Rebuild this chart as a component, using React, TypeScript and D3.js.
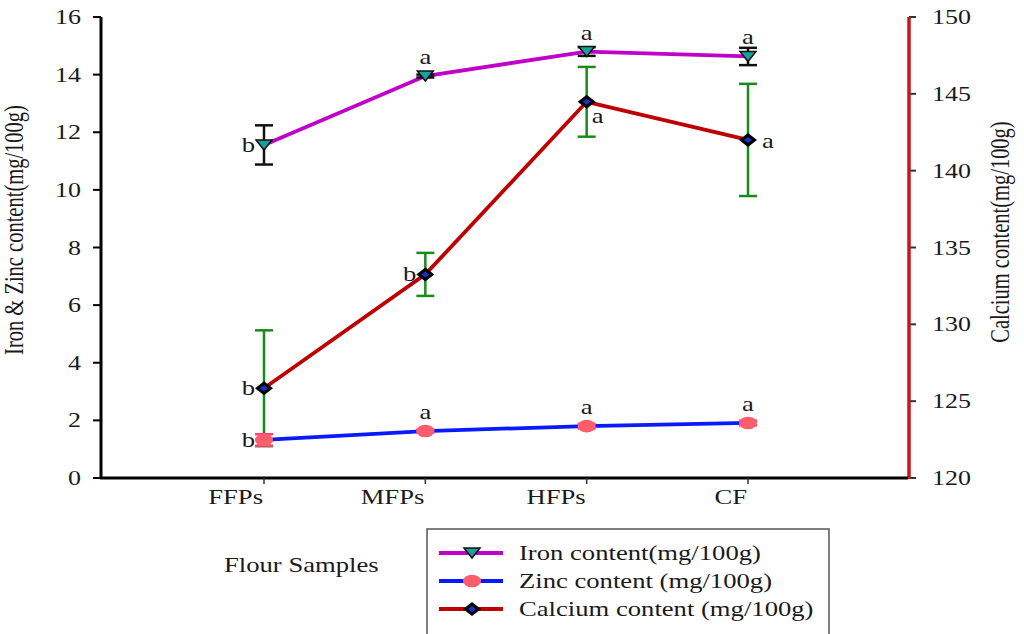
import React from 'react';
import * as d3 from 'd3';

const categories = ['FFPs', 'MFPs', 'HFPs', 'CF'];

const ironValues = [11.56, 13.95, 14.8, 14.63];
const ironErrors = [0.68, 0.05, 0.15, 0.3];
const ironLetters = ['b', 'a', 'a', 'a'];

const zincValues = [1.32, 1.63, 1.8, 1.91];
const zincErrors = [0.2, 0.05, 0.08, 0.08];
const zincLetters = ['b', 'a', 'a', 'a'];

const calciumValues = [125.84, 133.25, 144.48, 142.0];
const calciumErrors = [3.77, 1.4, 2.27, 3.65];
const calciumLetters = ['b', 'b', 'a', 'a'];

const leftTicks = [0, 2, 4, 6, 8, 10, 12, 14, 16];
const rightTicks = [120, 125, 130, 135, 140, 145, 150];

const legendLabels = ['Iron content(mg/100g)', 'Zinc content (mg/100g)', 'Calcium content (mg/100g)'];

// where each significance letter sits relative to its point
const ironLetterPos = ['left', 'above', 'above', 'above'];
const zincLetterPos = ['left', 'above', 'above', 'above'];
const calciumLetterPos = ['left', 'left', 'belowRight', 'right'];

const W = 1024;
const H = 634;
const FONT = '"Liberation Serif", "Times New Roman", serif';
const SX = 1.3; // the original is stretched sideways

const x = d3.scalePoint<string>().domain(categories).range([264, 748]);
const yLeft = d3.scaleLinear().domain([0, 16]).range([478, 17]);
const yRight = d3.scaleLinear().domain([120, 150]).range([478, 17]);

const T = ({ x, y, anchor = 'start', size = 20.5, rotate = 0, children }: any) => (
  <g transform={`translate(${x},${y}) scale(${SX},1) rotate(${rotate})`}>
    <text textAnchor={anchor} fontFamily={FONT} fontSize={size} fill="#1a1a1a">
      {children}
    </text>
  </g>
);

const Tri = ({ cx, cy }: any) => (
  <path d={`M${cx - 8},${cy - 5}L${cx + 8},${cy - 5}L${cx},${cy + 5}Z`} fill="#17a0a0" stroke="#111" strokeWidth={1.5} />
);
const Dot = ({ cx, cy }: any) => <ellipse cx={cx} cy={cy} rx={9} ry={6.3} fill="#ff5c6c" />;
const Diamond = ({ cx, cy }: any) => (
  <g>
    <path d={`M${cx - 9},${cy}L${cx},${cy - 7}L${cx + 9},${cy}L${cx},${cy + 7}Z`} fill="#000" />
    <path d={`M${cx - 4},${cy}L${cx},${cy - 3}L${cx + 4},${cy}L${cx},${cy + 3}Z`} fill="#1a30d0" />
  </g>
);

const letterAt = (kind: string, px: number, py: number, txt: string, key: string) => {
  if (kind === 'left') return <T key={key} x={px - 9} y={py + 7} anchor="end">{txt}</T>;
  if (kind === 'right') return <T key={key} x={px + 14} y={py + 8}>{txt}</T>;
  if (kind === 'belowRight') return <T key={key} x={px + 5} y={py + 21}>{txt}</T>;
  return <T key={key} x={px} y={py - 12} anchor="middle">{txt}</T>;
};

const ErrBars = ({ values, errors, scale, color, width }: any) => (
  <g stroke={color} strokeWidth={width} fill="none">
    {categories.map((c, i) => {
      const cx = x(c)!;
      const y0 = scale(values[i] - errors[i]);
      const y1 = scale(values[i] + errors[i]);
      return (
        <g key={c}>
          <line x1={cx} x2={cx} y1={y0} y2={y1} />
          <line x1={cx - 9} x2={cx + 9} y1={y0} y2={y0} />
          <line x1={cx - 9} x2={cx + 9} y1={y1} y2={y1} />
        </g>
      );
    })}
  </g>
);

export default function App() {
  const line = (values: number[], scale: any) =>
    d3.line<number>().x((_, i) => x(categories[i])!).y((v) => scale(v))(values) || '';

  const legendRows = [
    { label: legendLabels[0], color: '#c000c8', M: Tri },
    { label: legendLabels[1], color: '#0a1aff', M: Dot },
    { label: legendLabels[2], color: '#c00000', M: Diamond },
  ];

  return (
    <svg width={W} height={H} style={{ position: 'absolute', left: 0, top: 0, background: '#fff' }}>
      {/* left axis */}
      <line x1={101} x2={101} y1={17} y2={479} stroke="#000" strokeWidth={3} />
      {leftTicks.map((t) => (
        <g key={t}>
          <line x1={93} x2={101} y1={yLeft(t)} y2={yLeft(t)} stroke="#000" strokeWidth={2} />
          <T x={81} y={yLeft(t) + 7} anchor="end" size={20}>{t}</T>
        </g>
      ))}
      <T x={23} y={230} anchor="middle" size={20.5} rotate={-90}>Iron &amp; Zinc content(mg/100g)</T>

      {/* right axis */}
      {rightTicks.map((t) => (
        <g key={t}>
          <line x1={909} x2={916} y1={yRight(t)} y2={yRight(t)} stroke="#333" strokeWidth={2} />
          <T x={932} y={yRight(t) + 7} size={20}>{t}</T>
        </g>
      ))}
      <line x1={909} x2={909} y1={17} y2={479} stroke="#c8141c" strokeWidth={3.5} />
      <T x={1009} y={232} anchor="middle" size={20.5} rotate={-90}>Calcium content(mg/100g)</T>

      {/* x axis */}
      <line x1={100} x2={908} y1={478} y2={478} stroke="#000" strokeWidth={3} />
      {categories.map((c) => (
        <g key={c}>
          <line x1={x(c)} x2={x(c)} y1={478} y2={484} stroke="#333" strokeWidth={1.5} />
          <T x={x(c)! - 1} y={504} anchor="end">{c}</T>
        </g>
      ))}
      <T x={224} y={572}>Flour Samples</T>

      {/* calcium */}
      <ErrBars values={calciumValues} errors={calciumErrors} scale={yRight} color="#1a8a1a" width={2.5} />
      <path d={line(calciumValues, yRight)} fill="none" stroke="#c00000" strokeWidth={3.8} />

      {/* zinc */}
      <path d={line(zincValues, yLeft)} fill="none" stroke="#0a1aff" strokeWidth={3.8} />
      <ErrBars values={zincValues} errors={zincErrors} scale={yLeft} color="#ff4070" width={2.5} />

      {/* iron */}
      <path d={line(ironValues, yLeft)} fill="none" stroke="#c000c8" strokeWidth={3.8} />
      <ErrBars values={ironValues} errors={ironErrors} scale={yLeft} color="#111" width={2.5} />

      {categories.map((c, i) => (
        <g key={c}>
          <Dot cx={x(c)} cy={yLeft(zincValues[i])} />
          <Diamond cx={x(c)} cy={yRight(calciumValues[i])} />
          <Tri cx={x(c)} cy={yLeft(ironValues[i])} />
          {letterAt(ironLetterPos[i], x(c)!, yLeft(ironValues[i]), ironLetters[i], 'i' + c)}
          {letterAt(zincLetterPos[i], x(c)!, yLeft(zincValues[i]), zincLetters[i], 'z' + c)}
          {letterAt(calciumLetterPos[i], x(c)!, yRight(calciumValues[i]), calciumLetters[i], 'c' + c)}
        </g>
      ))}

      {/* legend */}
      <rect x={427} y={529} width={402} height={120} fill="#fff" stroke="#555" strokeWidth={1.5} />
      {legendRows.map((r, i) => {
        const ry = 553 + i * 28;
        const M = r.M;
        return (
          <g key={r.label}>
            <line x1={439} x2={503} y1={ry} y2={ry} stroke={r.color} strokeWidth={4} />
            <M cx={472} cy={ry} />
            <T x={519} y={ry + 7}>{r.label}</T>
          </g>
        );
      })}
    </svg>
  );
}
